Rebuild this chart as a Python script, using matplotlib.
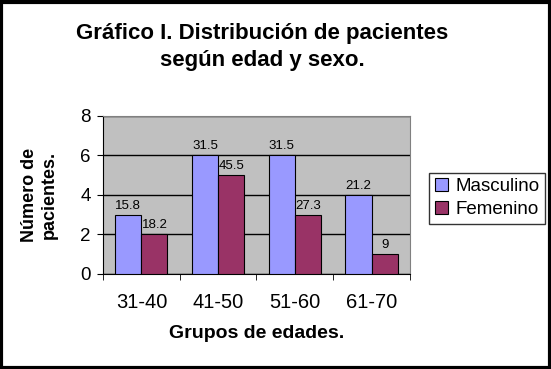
import matplotlib.pyplot as plt
import numpy as np
from matplotlib.patches import Rectangle

grupos = ['31-40', '41-50', '51-60', '61-70']
masculino = [3, 6, 6, 4]
femenino = [2, 5, 3, 1]
etiq_masc = ['15.8', '31.5', '31.5', '21.2']
etiq_fem = ['18.2', '45.5', '27.3', '9']

plt.rcParams['font.family'] = ['Liberation Sans', 'DejaVu Sans']

fig = plt.figure(figsize=(5.51, 3.69), dpi=100)
ax = fig.add_axes([0.187, 0.2575, 0.557, 0.4285])

x = np.arange(len(grupos))
w = 0.34
ax.set_facecolor('#C0C0C0')
b1 = ax.bar(x - w / 2, masculino, w, color='#9999FF', edgecolor='black',
            linewidth=0.8, label='Masculino', zorder=3)
b2 = ax.bar(x + w / 2, femenino, w, color='#993366', edgecolor='black',
            linewidth=0.8, label='Femenino', zorder=3)

for rect, t in zip(b1, etiq_masc):
    ax.text(rect.get_x() + rect.get_width() / 2, rect.get_height() + 0.15, t,
            ha='center', va='bottom', fontsize=9.5)
for rect, t in zip(b2, etiq_fem):
    ax.text(rect.get_x() + rect.get_width() / 2, rect.get_height() + 0.15, t,
            ha='center', va='bottom', fontsize=9.5)

ax.set_xlim(-0.5, 3.5)
ax.set_ylim(0, 8)
ax.set_yticks([0, 2, 4, 6, 8])
ax.yaxis.grid(True, color='black', linewidth=1, zorder=1)
ax.set_axisbelow(True)
ax.set_xticks(x)
ax.set_xticklabels(grupos, fontsize=14.5)
ax.set_xticks(np.arange(-0.5, 4, 1), minor=True)
ax.tick_params(axis='x', which='major', length=0, pad=14)
ax.tick_params(axis='x', which='minor', length=4, direction='out')
ax.tick_params(axis='y', labelsize=13.5, length=4, pad=5)
for s in ['top', 'right']:
    ax.spines[s].set_color('#808080')
ax.spines['left'].set_color('black')
ax.spines['bottom'].set_color('black')

ax.set_xlabel('Grupos de edades.', fontsize=14, fontweight='bold', labelpad=9)
ax.set_ylabel('Número de\npacientes.', fontsize=13, fontweight='bold', labelpad=16)

fig.text(0.476, 0.873, 'Gráfico I. Distribución de pacientes\nsegún edad y sexo.',
         ha='center', va='center', fontsize=16, fontweight='bold', linespacing=1.4)

leg = fig.legend(loc='center left', bbox_to_anchor=(0.762, 0.463), fontsize=13.5,
                 frameon=True, fancybox=False, edgecolor='black',
                 handlelength=0.7, handleheight=0.7, handletextpad=0.4,
                 borderpad=0.3, labelspacing=0.3)
leg.get_frame().set_linewidth(1)

fig.patches.append(Rectangle((0.002, 0.002), 0.996, 0.993, transform=fig.transFigure,
                             fill=False, edgecolor='black', linewidth=3))

plt.savefig('out.png', dpi=100)
